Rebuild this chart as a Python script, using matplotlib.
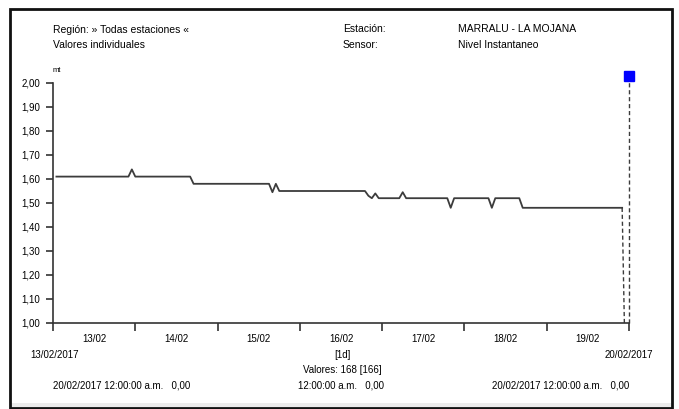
import numpy as np
import matplotlib
matplotlib.use("Agg")
import matplotlib.pyplot as plt
from matplotlib.patches import Rectangle

plt.rcParams['font.family'] = ['Liberation Sans', 'DejaVu Sans']

# nivel instantaneo, breakpoints (hours since 13/02 00:00)
hours = [1, 22, 23, 24, 40, 41, 63, 64, 65, 66, 91, 92, 93, 94, 95,
         101, 102, 103, 115, 116, 117, 127, 128, 129, 136, 137, 166]
level = [1.61, 1.61, 1.64, 1.61, 1.61, 1.58, 1.58, 1.545, 1.58, 1.55, 1.55, 1.53, 1.52, 1.54, 1.52,
         1.52, 1.545, 1.52, 1.52, 1.48, 1.52, 1.52, 1.48, 1.52, 1.52, 1.48, 1.48]
last_hour, last_value = 168, 0.00   # last reading is 0,00 -> drawn dashed
marker_hour, marker_value = 168, 2.03

day_labels = ['13/02', '14/02', '15/02', '16/02', '17/02', '18/02', '19/02']
ytick_vals = np.arange(1.0, 2.001, 0.1)

W, H = 679, 409
fig = plt.figure(figsize=(W / 100, H / 100), dpi=100)


def px(x, y):
    return x / W, 1 - y / H


# outer frame with grey strip at the bottom
fig.add_artist(Rectangle(px(11, 407), 660 / W, 4 / H, transform=fig.transFigure,
                         facecolor='#ececec', edgecolor='none'))
fig.add_artist(Rectangle(px(10, 407.5), 662 / W, 399 / H, transform=fig.transFigure,
                         fill=False, edgecolor='#111111', lw=2))

ax = fig.add_axes([53 / W, 1 - 323 / H, (629 - 53) / W, (323 - 83) / H])
ax.plot(hours, level, color='#3c3c3c', lw=1.3)
ax.plot([hours[-1], last_hour], [level[-1], last_value], color='#3c3c3c', lw=1.0,
        ls=(0, (3, 2)))
ax.plot([marker_hour, marker_hour], [1.0, marker_value], color='#3c3c3c', lw=1.0,
        ls=(0, (3, 2)), clip_on=False)
ax.plot([marker_hour], [marker_value], marker='s', ms=7, color='#0000ff',
        mec='#0000ff', clip_on=False)

ax.set_xlim(0, 168)
ax.set_ylim(1.0, 2.0)
for s in ['top', 'right']:
    ax.spines[s].set_visible(False)
for s in ['left', 'bottom']:
    ax.spines[s].set_color('#333333')
    ax.spines[s].set_linewidth(1.2)

ax.set_yticks(ytick_vals)
ax.set_yticklabels([f"{v:.2f}".replace('.', ',') for v in ytick_vals])
ax.tick_params(axis='y', length=5, width=1.2, color='#333333', pad=4, labelsize=7)

ax.set_xticks(np.arange(0, 169, 24))
ax.set_xticklabels([])
ax.set_xticks(np.arange(12, 168, 24), minor=True)
ax.set_xticklabels(day_labels, minor=True)
ax.tick_params(axis='x', which='major', length=6, width=1.2, color='#333333')
ax.tick_params(axis='x', which='minor', length=0, pad=8, labelsize=7)

fs = 7.5
fig.text(*px(53, 30), 'Región: » Todas estaciones «', fontsize=fs, va='center')
fig.text(*px(53, 45), 'Valores individuales', fontsize=fs, va='center')
fig.text(*px(343, 29), 'Estación:', fontsize=fs, va='center')
fig.text(*px(343, 45), 'Sensor:', fontsize=fs, va='center')
fig.text(*px(458, 29), 'MARRALU - LA MOJANA', fontsize=fs, va='center')
fig.text(*px(458, 45), 'Nivel Instantaneo', fontsize=fs, va='center')
fig.text(*px(53, 70), 'mt', fontsize=5.5, va='center')

fs2 = 7
fig.text(*px(30, 355), '13/02/2017', fontsize=fs2, va='center')
fig.text(*px(653, 355), '20/02/2017', fontsize=fs2, va='center', ha='right')
fig.text(*px(342, 355), '[1d]', fontsize=fs2, va='center', ha='center')
fig.text(*px(342, 370), 'Valores: 168 [166]', fontsize=fs2, va='center', ha='center')
fig.text(*px(53, 386), '20/02/2017 12:00:00 a.m.   0,00', fontsize=fs2, va='center')
fig.text(*px(298, 386), '12:00:00 a.m.   0,00', fontsize=fs2, va='center')
fig.text(*px(492, 386), '20/02/2017 12:00:00 a.m.   0,00', fontsize=fs2, va='center')

fig.savefig('out.png', dpi=100)
